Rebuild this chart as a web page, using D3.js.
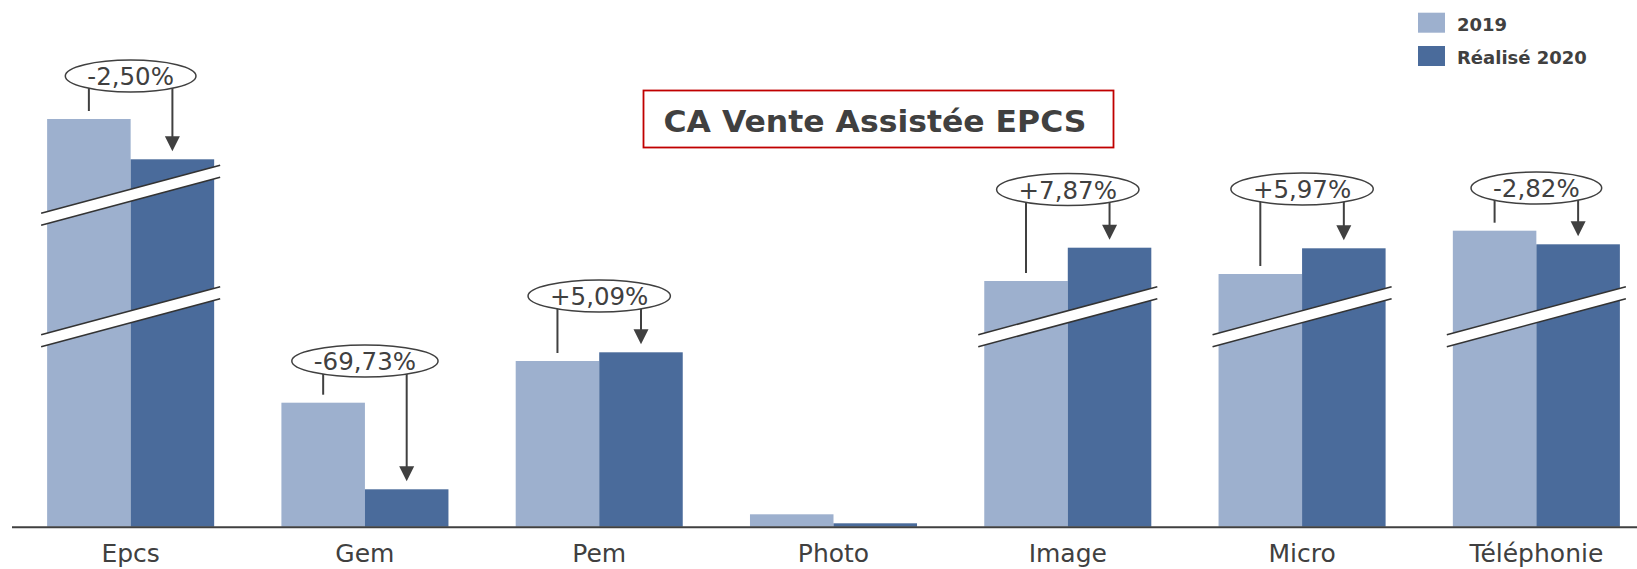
<!DOCTYPE html>
<html>
<head>
<meta charset="utf-8">
<script src="https://cdn.jsdelivr.net/npm/d3@7"></script>
<style>
  body { margin: 0; background: #fff; }
  text { font-family: 'DejaVu Sans', Verdana, sans-serif; fill: #404040; }
</style>
</head>
<body>
<div id="chart"></div>
<script>

// DATA (bar heights as drawn, the cut bars are shown shortened)
var categories = ['Epcs', 'Gem', 'Pem', 'Photo', 'Image', 'Micro', 'Téléphonie'];
var series = ['2019', 'Réalisé 2020'];
var values2019 = [407.7, 124, 165.7, 12.4, 245.7, 252.7, 296];
var values2020 = [367.4, 37.4, 174.4, 3.4, 279, 278.4, 282.4];
var evolution = ['-2,50%', '-69,73%', '+5,09%', null, '+7,87%', '+5,97%', '-2,82%'];
var calloutLevel = [450.7, 165.7, 230.7, null, 337.2, 337.7, 338.7];
var cuts = [[331.5, 210], [], [], [], [210], [210], [210]];

var width = 1637, height = 569;
var colors = ['#9db0ce', '#4a6b9b'];

var svg = d3.select('#chart')
  .append('svg')
    .attr('width', width)
    .attr('height', height);

var x = d3.scaleBand()
  .domain(categories)
  .range([13.5, 1653.5])
  .paddingInner(0.287)
  .paddingOuter(0.1435);

var xs = d3.scaleBand()
  .domain(series)
  .range([0, x.bandwidth()]);

var y = d3.scaleLinear()
  .domain([0, 500])
  .range([526.7, 26.7]);

var rows = categories.map(function(c, i) {
  return { cat: c, v: [values2019[i], values2020[i]], evo: evolution[i], level: calloutLevel[i], cuts: cuts[i] };
});

// BARS

var groups = svg.selectAll('g.group')
  .data(rows)
  .enter().append('g')
    .attr('class', 'group')
    .attr('transform', function(d) { return 'translate(' + x(d.cat) + ',0)'; });

groups.selectAll('rect.bar')
  .data(function(d) { return d.v; })
  .enter().append('rect')
    .attr('class', 'bar')
    .attr('x', function(d, i) { return xs(series[i]); })
    .attr('width', xs.bandwidth())
    .attr('y', function(d) { return y(d); })
    .attr('height', function(d) { return y(0) - y(d); })
    .attr('fill', function(d, i) { return colors[i]; });

// AXIS BREAKS

var bw = x.bandwidth(), over = 6, slope = 0.268, gap = 6;
groups.selectAll('g.cut')
  .data(function(d) { return d.cuts; })
  .enter().append('g')
    .attr('class', 'cut')
    .each(function(v) {
      var g = d3.select(this);
      var yc = y(v), half = bw / 2 + over;
      var x0 = -over, x1 = bw + over;
      var dy = slope * half;
      g.append('polygon')
        .attr('points', [
          [x0, yc - gap + dy], [x1, yc - gap - dy],
          [x1, yc + gap - dy], [x0, yc + gap + dy]
        ].join(' '))
        .attr('fill', '#fff');
      [-gap, gap].forEach(function(o) {
        g.append('line')
          .attr('x1', x0).attr('y1', yc + o + dy)
          .attr('x2', x1).attr('y2', yc + o - dy)
          .attr('stroke', '#333')
          .attr('stroke-width', 1.6);
      });
    });

// CALLOUTS

var callouts = groups.filter(function(d) { return d.evo; });

callouts.each(function(d) {
  var g = d3.select(this);
  var cy = y(d.level);
  var xl = xs(series[0]) + xs.bandwidth() / 2;
  var xr = xs(series[1]) + xs.bandwidth() / 2;
  var endL = y(d.v[0]) - 8, endR = y(d.v[1]) - 8;

  g.append('line')
    .attr('x1', xl).attr('x2', xl)
    .attr('y1', cy).attr('y2', endL)
    .attr('stroke', '#404040').attr('stroke-width', 2);

  g.append('line')
    .attr('x1', xr).attr('x2', xr)
    .attr('y1', cy).attr('y2', endR - 12)
    .attr('stroke', '#404040').attr('stroke-width', 2);

  g.append('path')
    .attr('d', 'M' + (xr - 7.5) + ',' + (endR - 15) + 'L' + (xr + 7.5) + ',' + (endR - 15) + 'L' + xr + ',' + endR + 'Z')
    .attr('fill', '#404040');

  var ell = g.append('ellipse')
    .attr('cx', bw / 2)
    .attr('cy', cy)
    .attr('ry', 16)
    .attr('fill', '#fff')
    .attr('stroke', '#404040')
    .attr('stroke-width', 1.5);

  var t = g.append('text')
    .attr('x', bw / 2)
    .attr('y', cy + 9)
    .attr('text-anchor', 'middle')
    .attr('font-size', 24.5)
    .text(d.evo);

  ell.attr('rx', t.node().getComputedTextLength() / 2 + 22);
});

// BASELINE + CATEGORY LABELS

svg.append('line')
  .attr('x1', 12).attr('x2', width)
  .attr('y1', y(0) + 0.5).attr('y2', y(0) + 0.5)
  .attr('stroke', '#404040')
  .attr('stroke-width', 2);

svg.selectAll('text.cat')
  .data(categories)
  .enter().append('text')
    .attr('class', 'cat')
    .attr('x', function(d) { return x(d) + bw / 2; })
    .attr('y', 562)
    .attr('text-anchor', 'middle')
    .attr('font-size', 25)
    .text(function(d) { return d; });

// TITLE

svg.append('rect')
  .attr('x', 643.5).attr('y', 90.5)
  .attr('width', 470).attr('height', 57)
  .attr('fill', '#fff')
  .attr('stroke', '#c00000')
  .attr('stroke-width', 1.8);

svg.append('text')
  .attr('x', 875)
  .attr('y', 131.5)
  .attr('text-anchor', 'middle')
  .attr('font-size', 30)
  .attr('font-weight', 'bold')
  .attr('textLength', 423)
  .attr('lengthAdjust', 'spacingAndGlyphs')
  .text('CA Vente Assistée EPCS');

// LEGEND

var legend = svg.selectAll('g.legend')
  .data(series)
  .enter().append('g')
    .attr('class', 'legend')
    .attr('transform', function(d, i) { return 'translate(1418,' + (12.7 + i * 33.3) + ')'; });

legend.append('rect')
  .attr('width', 27)
  .attr('height', 20)
  .attr('fill', function(d, i) { return colors[i]; });

legend.append('text')
  .attr('x', 39)
  .attr('y', 18)
  .attr('font-size', 18)
  .attr('font-weight', 'bold')
  .text(function(d) { return d; });

</script>
</body>
</html>
